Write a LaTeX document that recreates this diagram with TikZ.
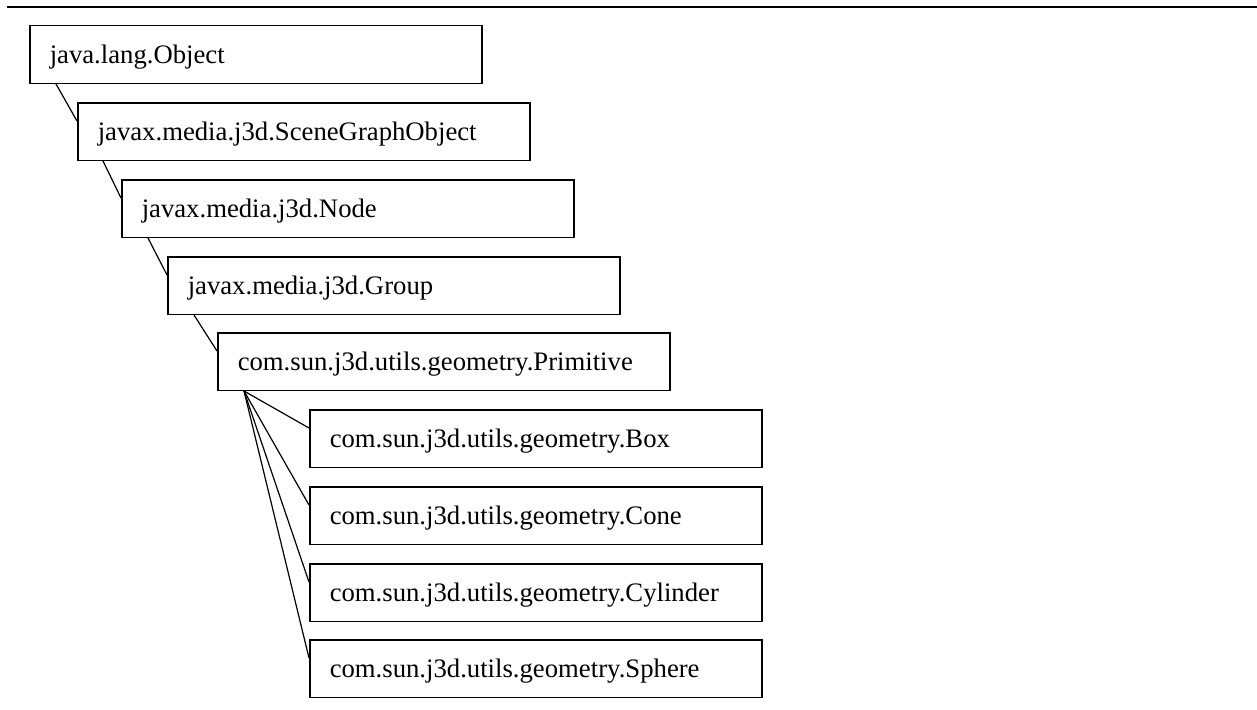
\documentclass[tikz,border=0pt]{standalone}
\usepackage{fontspec}
\setmainfont{Liberation Serif}
\begin{document}
\begin{tikzpicture}[x=1pt,y=-1pt,
  classbox/.style={draw, line width=1.5pt, anchor=north west,
    minimum width=452pt, minimum height=57.5pt,
    inner xsep=20pt, inner ysep=0pt, text width=412pt, align=left,
    text height=17.6pt, text depth=0pt,
    font=\fontsize{26.7pt}{30pt}\selectfont},
  link/.style={line width=1.2pt}]
\useasboundingbox (0,0) rectangle (1257,709);
% rule across the top
\coordinate (ruleL) at (7,7);
\coordinate (ruleR) at (1257,7);
\draw[line width=2.3pt] (ruleL) -- (ruleR);

% class hierarchy
\node[classbox] (obj)   at (29,25)  {java.lang.Object};
\node[classbox] (sgo)   at (77,102) {javax.media.j3d.SceneGraphObject};
\node[classbox] (jnode) at (121,179) {javax.media.j3d.Node};
\node[classbox] (grp)   at (167,256) {javax.media.j3d.Group};
\node[classbox] (prim)  at (217,332) {com.sun.j3d.utils.geometry.Primitive};
\node[classbox] (box)   at (309,409) {com.sun.j3d.utils.geometry.Box};
\node[classbox] (cone)  at (309,486) {com.sun.j3d.utils.geometry.Cone};
\node[classbox] (cyl)   at (309,563) {com.sun.j3d.utils.geometry.Cylinder};
\node[classbox] (sph)   at (309,639) {com.sun.j3d.utils.geometry.Sphere};

% parent-child links
\draw[link] ([xshift=27pt]obj.south west)  -- ([yshift=-19pt]sgo.north west);
\draw[link] ([xshift=26pt]sgo.south west)  -- ([yshift=-19pt]jnode.north west);
\draw[link] ([xshift=27pt]jnode.south west) -- ([yshift=-19pt]grp.north west);
\draw[link] ([xshift=27pt]grp.south west)  -- ([yshift=-19pt]prim.north west);
\foreach \c in {box,cone,cyl,sph}
  \draw[link] ([xshift=27pt]prim.south west) -- ([yshift=-19pt]\c.north west);
\end{tikzpicture}
\end{document}
